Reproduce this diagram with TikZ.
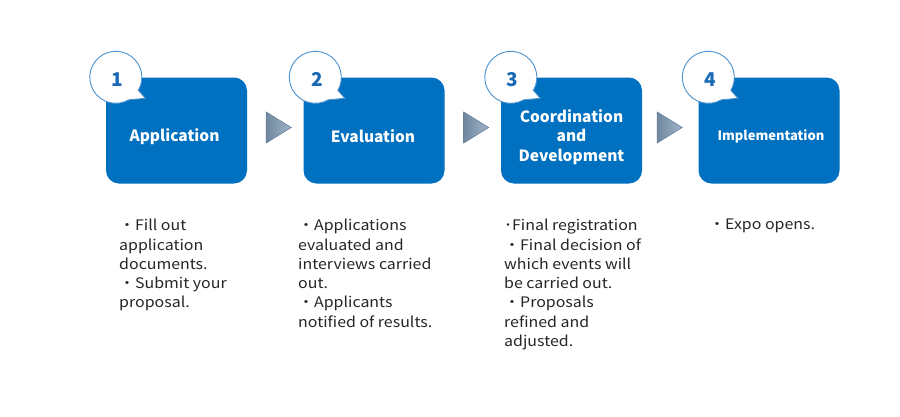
\documentclass[tikz,border=0pt]{standalone}
\usepackage{fontspec}
\setmainfont{Noto Sans CJK JP}
\newfontfamily\notefont[FakeStretch=1.1]{Noto Sans CJK JP}
\usetikzlibrary{positioning, calc}
\definecolor{stepblue}{RGB}{0,112,192}
\definecolor{ringblue}{RGB}{75,145,205}
\definecolor{numblue}{RGB}{25,105,180}
\definecolor{tridark}{RGB}{112,136,160}
\definecolor{trilight}{RGB}{160,180,200}
\definecolor{triline}{RGB}{100,128,156}
\definecolor{notegray}{RGB}{38,38,38}

\begin{document}
\begin{tikzpicture}[x=1pt, y=-1pt,
    stepbox/.style={fill=stepblue, rounded corners=13pt, minimum width=141pt, minimum height=106pt, inner sep=0pt},
    steptitle/.style={inner sep=0pt, text=white, align=center, font=\fontsize{15.5}{19.5}\selectfont\bfseries},
    bubble/.style={draw=ringblue, fill=white, line width=0.9pt},
    numtext/.style={text=numblue, font=\fontsize{19}{19}\selectfont\bfseries, inner sep=0pt},
    tri/.style={left color=tridark, right color=trilight, draw=triline, line width=0.6pt},
    note/.style={anchor=north west, inner sep=0pt, align=left, text=notegray,
      font=\fontsize{14.5}{19.3}\notefont}]

      \fill[white] (0,0) rectangle (900,416);
      \useasboundingbox (0,0) rectangle (900,416);

      \node[stepbox] (app) at (176.5,130.5) {};
      \node[stepbox] (eval) at (374,130.5) {};
      \node[stepbox] (coord) at (571.5,130.5) {};
      \node[stepbox] (impl) at (769,130.5) {};

      \node[steptitle] (app-t) at ($(app.center)+(-2,6)$) {Application};
      \node[steptitle] (eval-t) at ($(eval.center)+(-1,6)$) {Evaluation};
      \node[steptitle] (coord-t) at ($(coord.center)+(0,6.5)$) {Coordination\\and\\Development};
      \node[steptitle, font=\fontsize{13}{16}\selectfont\bfseries] (impl-t) at ($(impl.center)+(2,6)$) {Implementation};

      \coordinate (b1) at ($(app.north west)+(10,0)$);
      \coordinate (b2) at ($(eval.north west)+(12,0)$);
      \coordinate (b3) at ($(coord.north west)+(10,0)$);
      \coordinate (b4) at ($(impl.north west)+(10,0)$);

      \draw[bubble] ($(b1)+(30:26)$) -- ++(7,8) -- ($(b1)+(60:26)$) arc[start angle=60, end angle=390, radius=26] -- cycle;
      \draw[bubble] ($(b2)+(30:26)$) -- ++(7,8) -- ($(b2)+(60:26)$) arc[start angle=60, end angle=390, radius=26] -- cycle;
      \draw[bubble] ($(b3)+(30:26)$) -- ++(7,8) -- ($(b3)+(60:26)$) arc[start angle=60, end angle=390, radius=26] -- cycle;
      \draw[bubble] ($(b4)+(30:26)$) -- ++(7,8) -- ($(b4)+(60:26)$) arc[start angle=60, end angle=390, radius=26] -- cycle;

      \node[numtext] (n1) at ($(b1)+(1.5,2)$) {1};
      \node[numtext] (n2) at ($(b2)+(1.5,2)$) {2};
      \node[numtext] (n3) at ($(b3)+(1.5,2)$) {3};
      \node[numtext] (n4) at ($(b4)+(1.5,2)$) {4};

      \draw[tri] ($(app.east)+(19,-18.5)$) -- ($(app.east)+(44,-3)$) -- ($(app.east)+(19,12.5)$) -- cycle;
      \draw[tri] ($(eval.east)+(19,-18.5)$) -- ($(eval.east)+(44,-3)$) -- ($(eval.east)+(19,12.5)$) -- cycle;
      \draw[tri] ($(coord.east)+(15,-18.5)$) -- ($(coord.east)+(40,-3)$) -- ($(coord.east)+(15,12.5)$) -- cycle;

      \node[note] (t1) at (119,219) {・Fill out\\application\\documents.\\・Submit your\\proposal.};
      \node[note] (t2) at (298,219) {・Applications\\evaluated and\\interviews carried\\out.\\・Applicants\\notified of results.};
      \node[note] (t3) at (504,219) {･Final registration\\・Final decision of\\which events will\\be carried out.\\・Proposals\\refined and\\adjusted.};
      \node[note] (t4) at (709,219) {・Expo opens.};

    \end{tikzpicture}
\end{document}
